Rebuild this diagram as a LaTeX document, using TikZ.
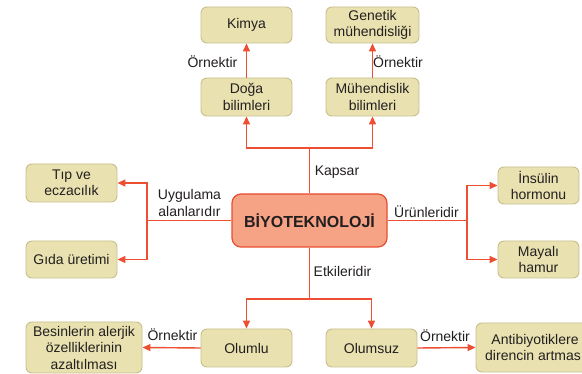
\documentclass[tikz,border=0pt]{standalone}
\usepackage{fontspec}
\setmainfont{Liberation Sans}
\usetikzlibrary{arrows.meta,calc}
\definecolor{boxfill}{RGB}{233,226,176}
\definecolor{boxline}{RGB}{200,190,140}
\definecolor{arrred}{RGB}{238,78,50}
\definecolor{mainfill}{RGB}{246,162,132}
\definecolor{mainline}{RGB}{232,78,50}
\definecolor{txt}{RGB}{35,31,32}
\tikzset{
  box/.style={draw=boxline, fill=boxfill, line width=0.9pt, rounded corners=6pt, align=center,
    font=\fontsize{14}{16.5}\selectfont, text=txt, inner sep=0pt},
  mainbox/.style={draw=mainline, fill=mainfill, line width=1.2pt, rounded corners=9pt,
    font=\fontsize{16}{18}\selectfont\bfseries, text=txt, inner sep=0pt},
  conn/.style={draw=arrred, line width=1.4pt},
  arr/.style={conn, -{Triangle[length=8pt,width=7pt]}},
  lbl/.style={font=\fontsize{14}{16.5}\selectfont, text=txt, align=center, inner sep=0pt}
}
\begin{document}
\begin{tikzpicture}[x=1pt,y=-1pt]
\clip (0,0) rectangle (582,374);
\fill[white] (0,0) rectangle (582,374);
% nodes
\node[box, minimum width=91, minimum height=36] (kimya) at (246.5,25) {Kimya};
\node[box, minimum width=93, minimum height=36] (genetik) at (372.5,25) {Genetik\\mühendisliği};
\node[box, minimum width=91, minimum height=38] (doga) at (246.5,97) {Doğa\\bilimleri};
\node[box, minimum width=93, minimum height=38] (muh) at (372.5,97) {Mühendislik\\bilimleri};
\node[mainbox, minimum width=155, minimum height=53] (bio) at (309.5,220.5) {BİYOTEKNOLOJİ};
\node[box, minimum width=91, minimum height=38] (tip) at (71.5,183) {Tıp ve\\eczacılık};
\node[box, minimum width=91, minimum height=37] (gida) at (71.5,259.5) {Gıda üretimi};
\node[box, minimum width=81, minimum height=37] (insulin) at (538.5,185.5) {İnsülin\\hormonu};
\node[box, minimum width=81, minimum height=37] (mayali) at (538.5,259.5) {Mayalı\\hamur};
\node[box, minimum width=91, minimum height=38] (olumlu) at (246.5,348) {Olumlu};
\node[box, minimum width=91, minimum height=38] (olumsuz) at (371.5,348) {Olumsuz};
\node[box, minimum width=116, minimum height=51] (besin) at (84,347.5) {Besinlerin alerjik\\özelliklerinin\\azaltılması};
\node[box, minimum width=118, minimum height=49] (anti) at (535,347.5) {Antibiyotiklere\\direncin artması};
% branch points
\coordinate (ctop) at (bio.north |- 0,148);
\coordinate (cleft) at (147,220.5);
\coordinate (cright) at (467,220.5);
\coordinate (cbot) at (bio.south |- 0,299);
% connectors
\draw[conn] (bio.north) -- (ctop);
\draw[arr] (ctop) -| (doga.south);
\draw[arr] (ctop) -| (muh.south);
\draw[arr] (doga.north) -- (kimya.south);
\draw[arr] (muh.north) -- (genetik.south);
\draw[conn] (bio.west) -- (cleft);
\draw[arr] (cleft) |- (tip.east);
\draw[arr] (cleft) |- (gida.east);
\draw[conn] (bio.east) -- (cright);
\draw[arr] (cright) |- (insulin.west);
\draw[arr] (cright) |- (mayali.west);
\draw[conn] (bio.south) -- (cbot);
\draw[arr] (cbot) -| (olumlu.north);
\draw[arr] (cbot) -| (olumsuz.north);
\draw[arr] (olumlu.west) -- (besin.east);
\draw[arr] (olumsuz.east) -- (anti.west);
% labels
\node[lbl] (l1) at (212.5,62) {Örnektir};
\node[lbl] (l2) at (398,62) {Örnektir};
\node[lbl] (l3) at (337,172) {Kapsar};
\node[lbl] (l4) at (189.5,203) {Uygulama\\alanlarıdır};
\node[lbl] (l5) at (426.5,212) {Ürünleridir};
\node[lbl] (l6) at (342.5,271) {Etkileridir};
\node[lbl] (l7) at (172.5,335) {Örnektir};
\node[lbl] (l8) at (445,336) {Örnektir};
\end{tikzpicture}
\end{document}
